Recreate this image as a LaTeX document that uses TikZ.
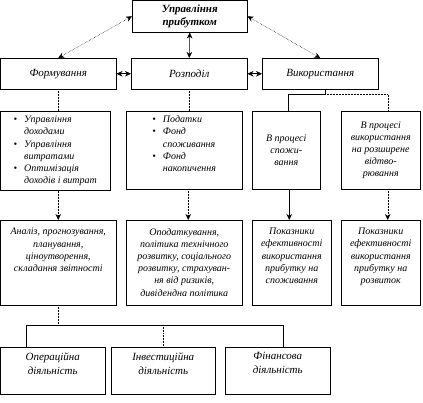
\documentclass[tikz,border=0pt]{standalone}
\usepackage{fontspec}
\setmainfont{Liberation Serif}
\usetikzlibrary{arrows.meta, calc}

% text box of fixed size, text starting at the top
\newcommand{\toptext}[3]{\parbox[c][#2][t]{#1}{\centering\vspace*{1pt}#3}}
% list with round bullets
\newcommand{\bulletlist}[1]{\begin{tabular}{@{}l@{\hspace{7pt}}l@{}}#1\end{tabular}}

\begin{document}
\begin{tikzpicture}[
		x=1pt, y=-1pt,
		>={Stealth[length=6pt, width=5.5pt]},
		line width=0.5pt,
		box/.style={draw, anchor=north west, inner sep=3pt, align=center,
			font=\itshape\fontsize{10}{12.2}\selectfont},
		head/.style={box, font=\bfseries\itshape\fontsize{11}{13}\selectfont},
		stage/.style={box, font=\itshape\fontsize{11}{13}\selectfont},
		lower/.style={box, font=\itshape\fontsize{11}{14}\selectfont},
		link/.style={densely dotted}
	]

	\useasboundingbox (0,0) rectangle (423,403);

	%% 1. Top box and the three stages
	\node[head, minimum width=115pt, minimum height=32pt] (mgmt) at (132,0)
		{Управління\\прибутком};

	\node[stage, minimum width=116pt, minimum height=31pt] (form) at (0,58) {Формування};
	\node[stage, minimum width=116pt, minimum height=31pt] (distr) at (131,58) {Розподіл};
	\node[stage, minimum width=116pt, minimum height=31pt] (usage) at (262,58) {Використання};

	\draw[link, <->] (mgmt.west) -- (form.north);
	\draw[<->] (mgmt.south) -- (distr.north);
	\draw[link, <->] (mgmt.east) -- (usage.north);
	\draw[<->] (form.east) -- (distr.west);
	\draw[<->] (distr.east) -- (usage.west);

	%% 2. Second row
	\node[box, minimum width=110pt, minimum height=79pt, align=left] (formlist) at (0,111)
		{\bulletlist{\textbullet & Управління\\ & доходами\\
			\textbullet & Управління\\ & витратами\\
			\textbullet & Оптимізація\\ & доходів і витрат}};
	\node[box, inner sep=0pt] (distrlist) at (126,111)
		{\toptext{116pt}{78pt}{\vspace*{2pt}\bulletlist{\textbullet & Податки\\
			\textbullet & Фонд\\ & споживання\\
			\textbullet & Фонд\\ & накопичення}}};
	\node[box, minimum width=68pt, minimum height=78pt] (consproc) at (252,111)
		{В процесі\\спожи-\\вання};
	\node[box, minimum width=79pt, minimum height=78pt] (devproc) at (341,111)
		{В процесі\\використання\\на розширене\\відтво-\\рювання};

	\draw[link] (form.south) -- (form.south |- formlist.north);
	\draw[link] (distr.south) -- (distr.south |- distrlist.north);
	\coordinate (usagefork) at ($(usage.south)+(5,5)$);
	\draw ($(usage.south)+(5,0)$) -- (usagefork) -| ([xshift=2pt]consproc.north);
	\draw[link] (usagefork) -| ([xshift=7pt]devproc.north);

	%% 3. Third row
	\node[box, inner sep=4pt] (analysis) at (0,220)
		{\toptext{108pt}{77pt}{\vspace*{3pt}Аналіз, прогнозування,\\планування,\\ціноутворення,\\складання звітності}};
	\node[box, inner sep=4pt] (taxation) at (126,220)
		{\toptext{108pt}{77pt}{\vspace*{3pt}Оподаткування,\\політика технічного\\розвитку, соціального\\розвитку, страхуван-\\ня від ризиків,\\дивідендна політика}};
	\node[box, inner sep=4pt] (consind) at (252,220)
		{\toptext{71pt}{77pt}{\vspace*{3pt}Показники\\ефективності\\використання\\прибутку на\\споживання}};
	\node[box, inner sep=4pt] (devind) at (341,220)
		{\toptext{71pt}{77pt}{\vspace*{3pt}Показники\\ефективності\\використання\\прибутку на\\розвиток}};

	\draw[link, ->] (form.south |- formlist.south) -- (form.south |- analysis.north);
	\draw[link, ->] ([xshift=4pt]distrlist.south) -- ([xshift=4pt]distrlist.south |- taxation.north);
	\draw[->] ([xshift=3pt]consproc.south) -- ([xshift=3pt]consproc.south |- consind.north);
	\draw[link, ->] ([xshift=7pt]devproc.south) -- ([xshift=7pt]devind.north);

	%% 4. Activities
	\node[lower, inner sep=4pt] (oper) at (0,347)
		{\toptext{97pt}{39pt}{Операційна\\діяльність}};
	\node[lower, inner sep=4pt] (invest) at (111,347)
		{\toptext{96pt}{39pt}{Інвестиційна\\діяльність}};
	\node[lower, inner sep=4pt] (fin) at (225,347)
		{\toptext{97pt}{39pt}{Фінансова\\діяльність}};

	\coordinate (actfork) at ($(form.south |- analysis.south)+(0,20)$);
	\draw[link] (form.south |- analysis.south) -- (actfork);
	\draw ([xshift=26pt]oper.north west) |- (actfork) -| ([xshift=5pt]fin.north);
	\draw[link] (invest.north) -- (invest.north |- actfork);

\end{tikzpicture}
\end{document}
